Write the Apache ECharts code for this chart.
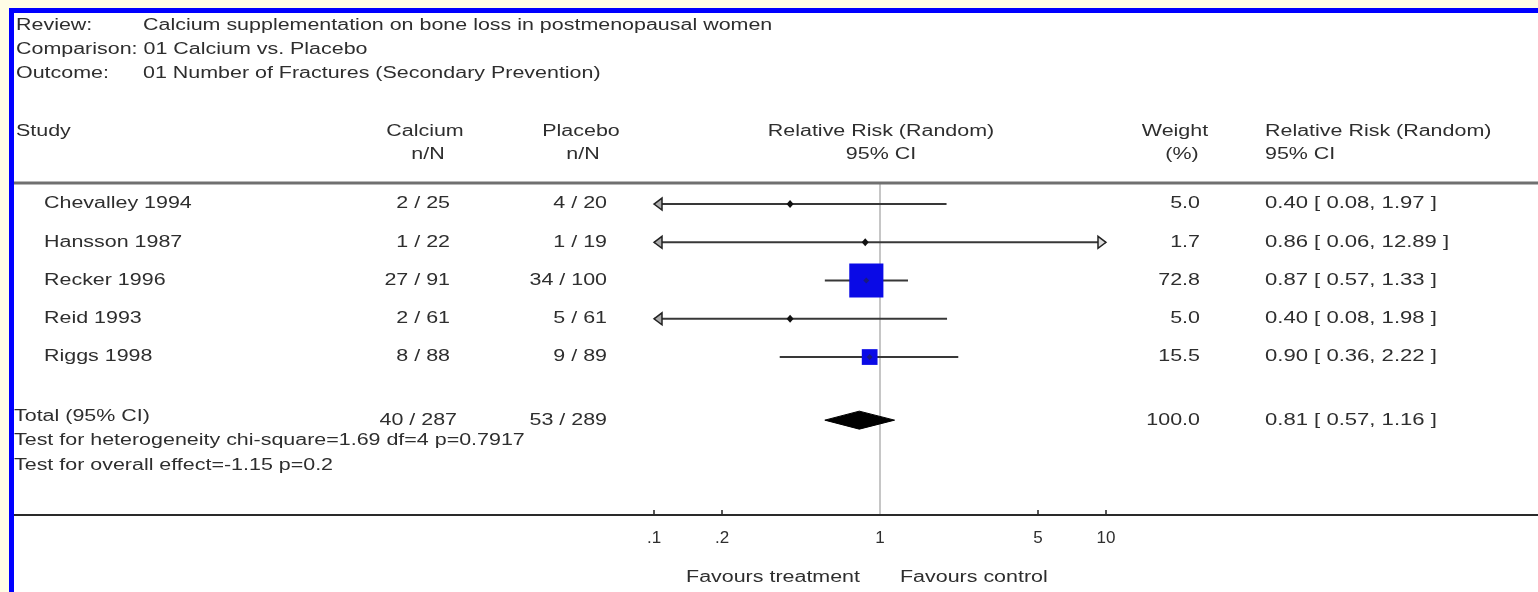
<!DOCTYPE html>
<html>
<head>
<meta charset="utf-8">
<script src="https://cdn.jsdelivr.net/npm/echarts@6/dist/echarts.min.js"></script>
<style>
html,body{margin:0;padding:0;background:#fffde6;}
#chart{width:1538px;height:592px;}
</style>
</head>
<body>
<div id="chart"></div>
<script>
// ---------------- data ----------------
const studies = ['Chevalley 1994', 'Hansson 1987', 'Recker 1996', 'Reid 1993', 'Riggs 1998'];
const calciumEvents = [2, 1, 27, 2, 8];
const calciumTotal = [25, 22, 91, 61, 88];
const placeboEvents = [4, 1, 34, 5, 9];
const placeboTotal = [20, 19, 100, 61, 89];
const weights = [5.0, 1.7, 72.8, 5.0, 15.5];
const rr = [0.40, 0.86, 0.87, 0.40, 0.90];
const rrLow = [0.08, 0.06, 0.57, 0.08, 0.36];
const rrHigh = [1.97, 12.89, 1.33, 1.98, 2.22];

const totalLabel = 'Total (95% CI)';
const totalCalcium = [40, 287];
const totalPlacebo = [53, 289];
const totalWeight = 100.0;
const totalRR = [0.81, 0.57, 1.16];
const heterogeneityText = 'Test for heterogeneity chi-square=1.69 df=4 p=0.7917';
const overallText = 'Test for overall effect=-1.15 p=0.2';

const tickValues = [0.1, 0.2, 1, 5, 10];
const tickLabels = ['.1', '.2', '1', '5', '10'];

const headerLines = [
  ['Review:', 'Calcium supplementation on bone loss in postmenopausal women'],
  ['Comparison: 01 Calcium vs. Placebo', ''],
  ['Outcome:', '01 Number of Fractures (Secondary Prevention)']
];
const favourLeft = 'Favours treatment';
const favourRight = 'Favours control';

// ---------------- layout / style ----------------
const AX_MIN = 0.1, AX_MAX = 10;
const TOTAL_ROW = studies.length + 0.65;
const FONT = '16px "Liberation Sans", Arial, sans-serif';
const TXT = '#2e2e2e';
const SX = 1.34;

function txt(x, y, s, align, sx) {
  align = align || 'left';
  return {
    type: 'text', x: x, y: y, z: 50, scaleX: sx || SX, scaleY: 1,
    style: { text: s, font: FONT, fill: TXT, align: align, verticalAlign: 'middle',
             textAlign: align, textVerticalAlign: 'middle' }
  };
}
const frac = (a, b) => a + ' / ' + b;
const ci = (m, l, h) => m.toFixed(2) + ' [ ' + l.toFixed(2) + ', ' + h.toFixed(2) + ' ]';

// forest data: [rr, row, low, high, weight, isTotal]
const forestData = studies.map((s, i) => [rr[i], i, rrLow[i], rrHigh[i], weights[i], 0]);
forestData.push([totalRR[0], TOTAL_ROW, totalRR[1], totalRR[2], totalWeight, 1]);

const tableData = studies.map((s, i) => [1, i]);
tableData.push([1, TOTAL_ROW]);

function renderForest(params, api) {
  const m = api.value(0), row = api.value(1), lo = api.value(2), hi = api.value(3), w = api.value(4), isTot = api.value(5);
  const y = api.coord([1, row])[1];
  const xMin = api.coord([AX_MIN, row])[0];
  const xMax = api.coord([AX_MAX, row])[0];
  const xm = api.coord([m, row])[0];
  const children = [];
  if (isTot) {
    const xl = api.coord([lo, row])[0], xh = api.coord([hi, row])[0];
    children.push({ type: 'polygon', shape: { points: [[xl, y], [xm, y - 9], [xh, y], [xm, y + 9]] },
      style: { fill: '#000', stroke: '#000', lineWidth: 1 } });
    return { type: 'group', children: children };
  }
  const clipL = lo < AX_MIN, clipH = hi > AX_MAX;
  const xl = clipL ? xMin : api.coord([lo, row])[0];
  const xh = clipH ? xMax : api.coord([hi, row])[0];
  children.push({ type: 'line', shape: { x1: xl, y1: y, x2: xh, y2: y },
    style: { stroke: '#383838', lineWidth: 2 } });
  if (clipL) {
    children.push({ type: 'polygon', shape: { points: [[xl, y], [xl + 8, y - 6], [xl + 8, y + 6]] },
      style: { fill: '#aaa', stroke: '#222', lineWidth: 1.5 } });
  }
  if (clipH) {
    children.push({ type: 'polygon', shape: { points: [[xh, y], [xh - 8, y - 6], [xh - 8, y + 6]] },
      style: { fill: '#ddd', stroke: '#222', lineWidth: 1.5 } });
  }
  const side = 4 * Math.sqrt(w);
  if (side >= 12) {
    children.push({ type: 'rect', shape: { x: xm - side / 2, y: y - side / 2, width: side, height: side },
      style: { fill: '#0a0ae6' } });
    children.push({ type: 'polygon', shape: { points: [[xm - 3, y], [xm, y - 3], [xm + 3, y], [xm, y + 3]] },
      style: { fill: '#1a1a80' } });
  } else {
    children.push({ type: 'polygon', shape: { points: [[xm - 3.5, y], [xm, y - 4], [xm + 3.5, y], [xm, y + 4]] },
      style: { fill: '#111' } });
  }
  return { type: 'group', children: children };
}

function renderTable(params, api) {
  const i = params.dataIndex;
  const y = api.coord([1, api.value(1)])[1];
  if (i < studies.length) {
    return { type: 'group', children: [
      txt(44, y, studies[i], 'left'),
      txt(450, y, frac(calciumEvents[i], calciumTotal[i]), 'right'),
      txt(607, y, frac(placeboEvents[i], placeboTotal[i]), 'right'),
      txt(1200, y, weights[i].toFixed(1), 'right'),
      txt(1265, y, ci(rr[i], rrLow[i], rrHigh[i]), 'left', 1.38)
    ]};
  }
  return { type: 'group', children: [
    txt(14, y - 4, totalLabel, 'left'),
    txt(457, y, frac(totalCalcium[0], totalCalcium[1]), 'right'),
    txt(607, y, frac(totalPlacebo[0], totalPlacebo[1]), 'right'),
    txt(1200, y, totalWeight.toFixed(1), 'right'),
    txt(1265, y, ci(totalRR[0], totalRR[1], totalRR[2]), 'left', 1.38),
    txt(14, y + 20, heterogeneityText, 'left'),
    txt(14, y + 45, overallText, 'left')
  ]};
}

const graphics = [
  { type: 'rect', z: -20, shape: { x: 9, y: 8, width: 1529, height: 584 }, style: { fill: '#0000ff' } },
  { type: 'rect', z: -19, shape: { x: 14, y: 13, width: 1524, height: 579 }, style: { fill: '#ffffff' } },
  { type: 'line', z: 10, shape: { x1: 14, y1: 183, x2: 1538, y2: 183 }, style: { stroke: '#707070', lineWidth: 3 } },
  { type: 'line', z: 10, shape: { x1: 14, y1: 515, x2: 1538, y2: 515 }, style: { stroke: '#2a2a2a', lineWidth: 2 } },
  txt(16, 26, headerLines[0][0]), txt(143, 26, headerLines[0][1]),
  txt(16, 50, headerLines[1][0]),
  txt(16, 74, headerLines[2][0]), txt(143, 74, headerLines[2][1]),
  txt(16, 132, 'Study'),
  txt(425, 132, 'Calcium', 'center'), txt(428, 155, 'n/N', 'center'),
  txt(581, 132, 'Placebo', 'center'), txt(583, 155, 'n/N', 'center'),
  txt(881, 132, 'Relative Risk (Random)', 'center'), txt(881, 155, '95% CI', 'center'),
  txt(1175, 132, 'Weight', 'center'), txt(1182, 155, '(%)', 'center'),
  txt(1265, 132, 'Relative Risk (Random)'), txt(1265, 155, '95% CI'),
  txt(860, 578, favourLeft, 'right'), txt(900, 578, favourRight, 'left')
];

const chart = echarts.init(document.getElementById('chart'), null, { renderer: 'canvas' });
chart.setOption({
  backgroundColor: '#fffde6',
  animation: false,
  grid: { left: 654, right: 432, top: 183, bottom: 77, containLabel: false },
  xAxis: {
    type: 'log', logBase: 10, min: AX_MIN, max: AX_MAX, position: 'bottom',
    axisLine: { show: false, onZero: false },
    splitLine: { show: false },
    axisTick: { show: true, inside: true, length: 5, customValues: tickValues, lineStyle: { color: '#222', width: 1.5 } },
    axisLabel: {
      show: true, customValues: tickValues, margin: 15,
      color: TXT, fontSize: 17, fontFamily: '"Liberation Sans", Arial, sans-serif',
      formatter: function (v) {
        let best = 0, bd = Infinity;
        tickValues.forEach((t, k) => { const d = Math.abs(Math.log10(t) - Math.log10(v)); if (d < bd) { bd = d; best = k; } });
        return tickLabels[best];
      }
    }
  },
  yAxis: { type: 'value', inverse: true, min: -0.55, max: 8.13, show: false },
  graphic: graphics,
  series: [
    {
      type: 'custom', name: 'forest', renderItem: renderForest, data: forestData, z: 5,
      markLine: {
        silent: true, symbol: 'none', label: { show: false },
        lineStyle: { color: '#c6c6c6', width: 2, type: 'solid' },
        data: [{ xAxis: 1 }]
      }
    },
    { type: 'custom', name: 'table', renderItem: renderTable, data: tableData, z: 6 }
  ]
});
</script>
</body>
</html>
